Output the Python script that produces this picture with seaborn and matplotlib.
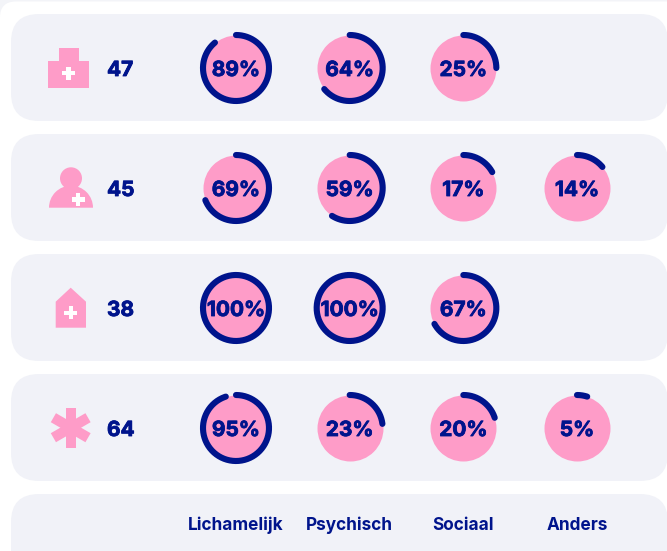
import numpy as np
import pandas as pd
import matplotlib
matplotlib.use("Agg")
import matplotlib.pyplot as plt
import matplotlib.patheffects as pe
from matplotlib.patches import FancyBboxPatch, Rectangle, Circle, Polygon, Wedge
from matplotlib.transforms import Affine2D
import seaborn as sns

categories = ["Lichamelijk", "Psychisch", "Sociaal", "Anders"]
counts = [47, 45, 38, 64]
lichamelijk = [89, 69, 100, 95]
psychisch = [64, 59, 100, 23]
sociaal = [25, 17, 67, 20]
anders = [np.nan, 14, np.nan, 5]

PINK = "#FE9CC8"
NAVY = "#00148C"
PANEL = "#F1F2F8"
W, H = 667, 551
COL_STEP, ROW_STEP = 113.67, 120
COL0, ROW0 = 236, 68
AX_BOTTOM = 509

sns.set_theme(style="white")
plt.rcParams["font.family"] = ["Inter", "DejaVu Sans"]
heavy = [pe.withStroke(linewidth=0.6, foreground=NAVY)]

df = pd.DataFrame({"Lichamelijk": lichamelijk, "Psychisch": psychisch,
                   "Sociaal": sociaal, "Anders": anders})
df["rij"] = range(len(counts))
df = df.melt(id_vars="rij", var_name="categorie", value_name="waarde").dropna()
df["kolom"] = df["categorie"].map(categories.index)

fig = plt.figure(figsize=(W / 100, H / 100), dpi=100, facecolor="white")

# background + icons, in pixels
bg = fig.add_axes([0, 0, 1, 1])
bg.set_xlim(0, W)
bg.set_ylim(H, 0)
bg.axis("off")
bg.add_patch(Rectangle((0, 0), W, 20, color="#F3F4F8", lw=0))
bg.add_patch(FancyBboxPatch((0, 1.5), W + 60, H, boxstyle="round,pad=0,rounding_size=16",
                            fc="white", ec="none"))
for top, h in [(14, 107), (134, 107), (254, 107), (374, 107), (494, 107)]:
    bg.add_patch(FancyBboxPatch((11, top), W + 1 - 11, h,
                                boxstyle="round,pad=0,rounding_size=28", fc=PANEL, ec="none"))


def cross(x, y, size=13, thick=4.4):
    bg.add_patch(Rectangle((x - size / 2, y - thick / 2), size, thick, color="white", lw=0, zorder=3))
    bg.add_patch(Rectangle((x - thick / 2, y - size / 2), thick, size, color="white", lw=0, zorder=3))


# kliniek
bg.add_patch(Rectangle((48.3, 61), 40.4, 26.8, color=PINK, lw=0))
bg.add_patch(Rectangle((58.7, 47.7), 20, 14, color=PINK, lw=0))
cross(68.5, 73)
# persoon
bg.add_patch(Circle((71, 178.3), 11, color=PINK, lw=0))
bg.add_patch(Wedge((71, 207.7), 22, 180, 360, color=PINK, lw=0))
cross(78, 199.5)
# huis
bg.add_patch(Polygon([(55.7, 301.7), (70.7, 287.7), (86, 301.7), (86, 327.7), (55.7, 327.7)],
                     color=PINK, lw=0))
cross(70.7, 312.7)
# asterisk
for ang in [0, 60, -60]:
    tr = Affine2D().rotate_deg_around(70.7, 427.7, ang) + bg.transData
    bg.add_patch(Rectangle((65.5, 407.7), 10.4, 40, color=PINK, lw=0, transform=tr))

# chart axes: column index on x, row index on y
ax = fig.add_axes([0, (H - AX_BOTTOM) / H, 1, AX_BOTTOM / H])
ax.patch.set_alpha(0)
ax.set_xlim(-COL0 / COL_STEP, (W - COL0) / COL_STEP)
ax.set_ylim((AX_BOTTOM - ROW0) / ROW_STEP, -ROW0 / ROW_STEP)

sns.scatterplot(data=df, x="kolom", y="rij", s=(66 * 0.72) ** 2, color=PINK,
                linewidth=0, legend=False, ax=ax, zorder=2, clip_on=False)

rx, ry = 33 / COL_STEP, 33 / ROW_STEP
for _, r in df.iterrows():
    t = np.linspace(0, 2 * np.pi * r["waarde"] / 100, 200)
    ax.plot(r["kolom"] + rx * np.sin(t), r["rij"] - ry * np.cos(t), color=NAVY, lw=4.4,
            solid_capstyle="round", zorder=3)
    ax.text(r["kolom"], r["rij"], f"{r['waarde']:.0f}%", color=NAVY, fontsize=15,
            fontweight="bold", ha="center", va="center_baseline", zorder=4, path_effects=heavy)

for i, n in enumerate(counts):
    ax.text(107 / W, i, str(n), color=NAVY, fontsize=15, fontweight="bold", ha="left",
            va="center_baseline", transform=ax.get_yaxis_transform(), path_effects=heavy)

ax.set_xticks(range(len(categories)), categories)
ax.set_yticks([])
ax.set_xlabel("")
ax.set_ylabel("")
ax.tick_params(axis="x", length=0, pad=5.5, labelsize=12.4, labelcolor=NAVY)
for lab in ax.get_xticklabels():
    lab.set_fontweight("bold")
sns.despine(ax=ax, left=True, bottom=True)

plt.savefig("out.png", dpi=100)
plt.close()
